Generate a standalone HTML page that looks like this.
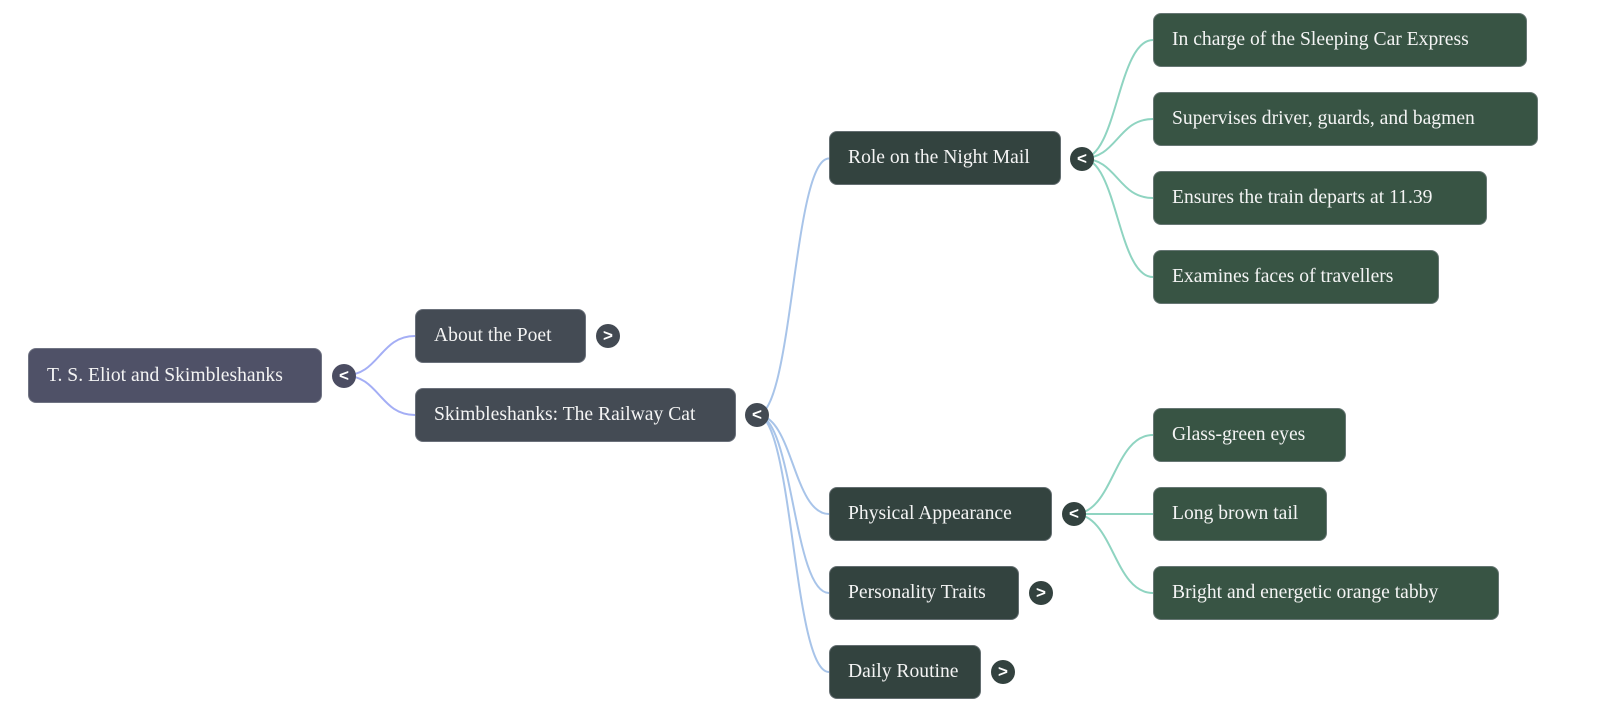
<!DOCTYPE html>
<html>
<head>
<meta charset="utf-8">
<style>
  html, body { margin: 0; padding: 0; background: #ffffff; }
  body { width: 1600px; height: 712px; position: relative; overflow: hidden; }
  .n {
    position: absolute; box-sizing: border-box; height: 54px;
    border-radius: 8px; color: #f4f4f4;
    font-family: "Liberation Serif", "Times New Roman", serif;
    font-size: 19.6px; line-height: 52px; padding-left: 18px; white-space: nowrap;
    border: 1px solid rgba(140,145,155,0.55);
  }
  .r { background: #4f5167; }
  .l1 { background: #444b54; }
  .l2 { background: #33433f; }
  .l3 { background: #385444; }
  svg { position: absolute; left: 0; top: 0; }
  .t {
    position: absolute; width: 24px; height: 24px; border-radius: 50%;
    color: #ffffff; font-family: "Liberation Sans", sans-serif; font-weight: bold;
    font-size: 17px; line-height: 23px; text-align: center;
  }
</style>
</head>
<body>
<svg width="1600" height="712" viewBox="0 0 1600 712">
  <g fill="none" stroke-width="2" stroke-linecap="round">
    <!-- root edges -->
    <path stroke="#a4aef5" d="M344 375.5 C379.5 375.5, 379.5 336, 415 336"/>
    <path stroke="#a4aef5" d="M344 375.5 C379.5 375.5, 379.5 415, 415 415"/>
    <!-- level1 edges -->
    <path stroke="#a8c4e9" d="M757 415 C793 415, 793 158.5, 829 158.5"/>
    <path stroke="#a8c4e9" d="M757 415 C793 415, 793 514, 829 514"/>
    <path stroke="#a8c4e9" d="M757 415 C793 415, 793 593, 829 593"/>
    <path stroke="#a8c4e9" d="M757 415 C793 415, 793 672, 829 672"/>
    <!-- level2 edges (Role) -->
    <path stroke="#8fd4c1" d="M1082 158.5 C1117.5 158.5, 1117.5 40, 1153 40"/>
    <path stroke="#8fd4c1" d="M1082 158.5 C1117.5 158.5, 1117.5 119, 1153 119"/>
    <path stroke="#8fd4c1" d="M1082 158.5 C1117.5 158.5, 1117.5 198, 1153 198"/>
    <path stroke="#8fd4c1" d="M1082 158.5 C1117.5 158.5, 1117.5 277, 1153 277"/>
    <!-- level2 edges (Physical) -->
    <path stroke="#8fd4c1" d="M1074 514 C1113.5 514, 1113.5 435, 1153 435"/>
    <path stroke="#8fd4c1" d="M1074 514 L1153 514"/>
    <path stroke="#8fd4c1" d="M1074 514 C1113.5 514, 1113.5 593, 1153 593"/>
  </g>
</svg>

<!-- nodes -->
<div class="n r" style="left:28px;top:348px;width:294px;height:55px;line-height:53px;">T. S. Eliot and Skimbleshanks</div>

<div class="n l1" style="left:415px;top:309px;width:171px;">About the Poet</div>
<div class="n l1" style="left:415px;top:388px;width:321px;">Skimbleshanks: The Railway Cat</div>

<div class="n l2" style="left:829px;top:131px;width:232px;">Role on the Night Mail</div>
<div class="n l2" style="left:829px;top:487px;width:223px;">Physical Appearance</div>
<div class="n l2" style="left:829px;top:566px;width:190px;">Personality Traits</div>
<div class="n l2" style="left:829px;top:645px;width:152px;">Daily Routine</div>

<div class="n l3" style="left:1153px;top:13px;width:374px;">In charge of the Sleeping Car Express</div>
<div class="n l3" style="left:1153px;top:92px;width:385px;">Supervises driver, guards, and bagmen</div>
<div class="n l3" style="left:1153px;top:171px;width:334px;">Ensures the train departs at 11.39</div>
<div class="n l3" style="left:1153px;top:250px;width:286px;">Examines faces of travellers</div>

<div class="n l3" style="left:1153px;top:408px;width:193px;">Glass-green eyes</div>
<div class="n l3" style="left:1153px;top:487px;width:174px;">Long brown tail</div>
<div class="n l3" style="left:1153px;top:566px;width:346px;">Bright and energetic orange tabby</div>

<!-- toggles -->
<div class="t" style="left:332px;top:363.5px;background:#4b4d62;">&lt;</div>
<div class="t" style="left:596px;top:324px;background:#434a53;">&gt;</div>
<div class="t" style="left:745px;top:403px;background:#434a53;">&lt;</div>
<div class="t" style="left:1070px;top:146.5px;background:#33423f;">&lt;</div>
<div class="t" style="left:1062px;top:502px;background:#33423f;">&lt;</div>
<div class="t" style="left:1029px;top:581px;background:#33423f;">&gt;</div>
<div class="t" style="left:991px;top:660px;background:#33423f;">&gt;</div>
</body>
</html>
